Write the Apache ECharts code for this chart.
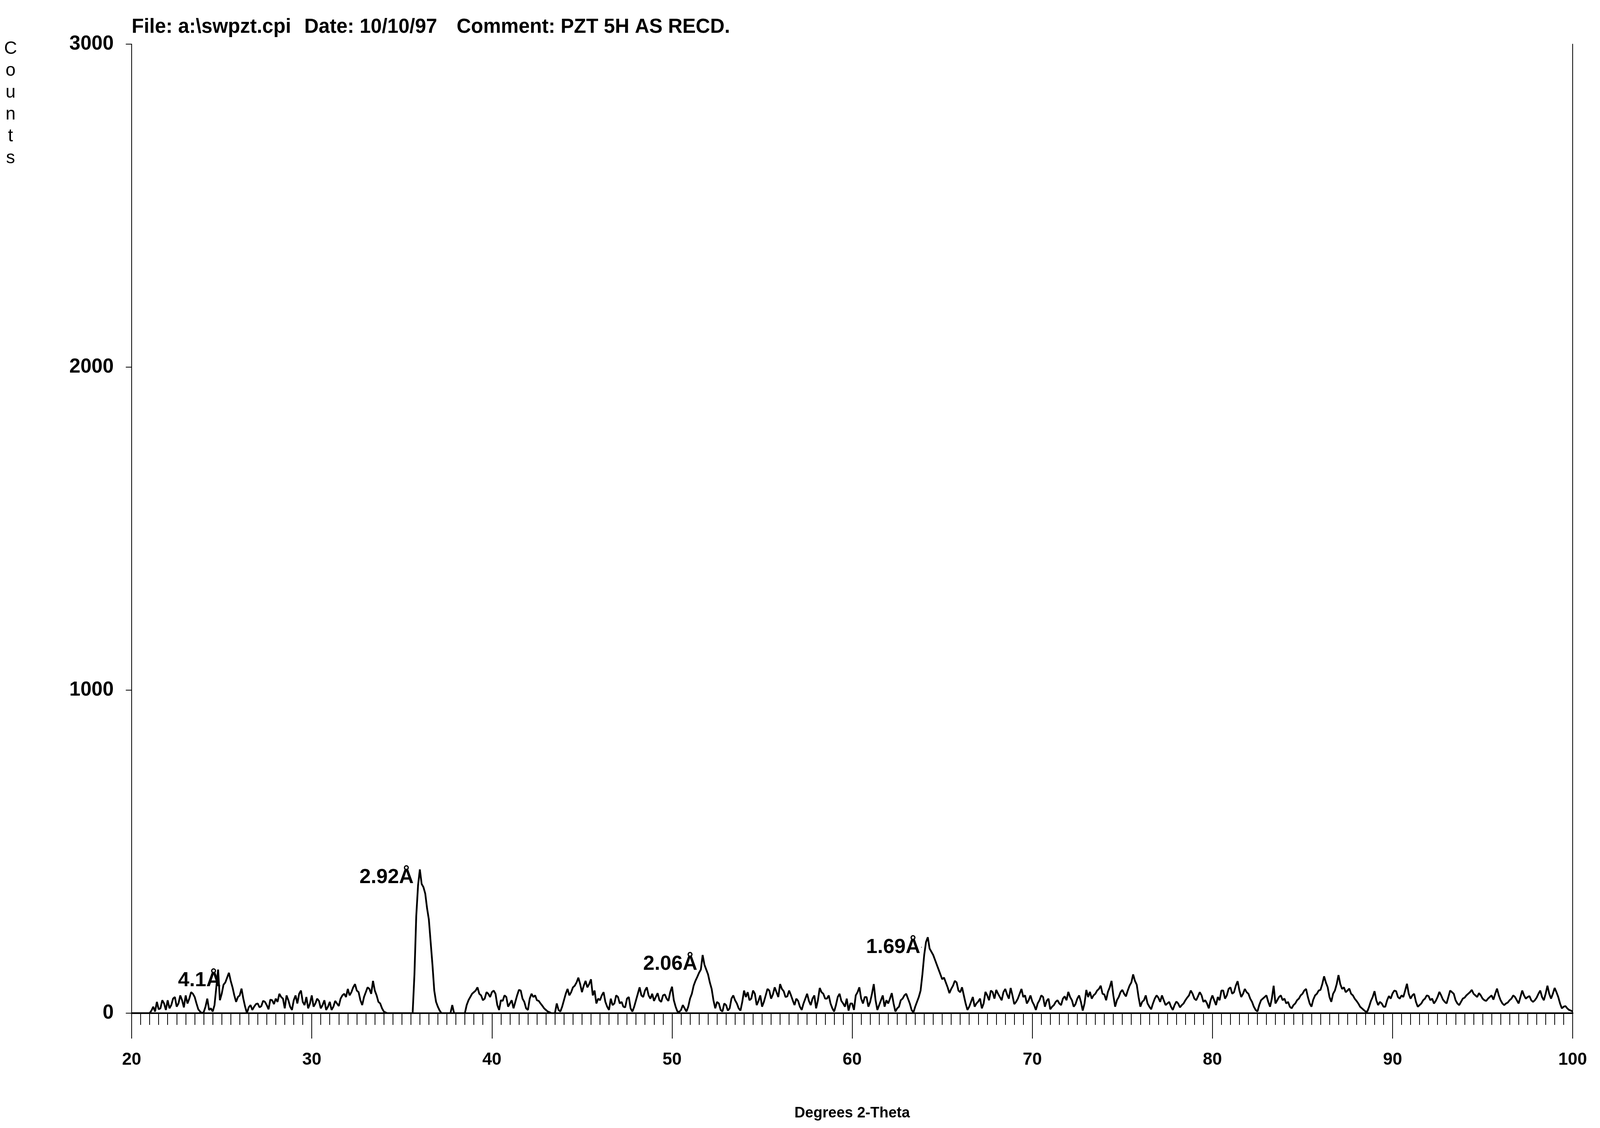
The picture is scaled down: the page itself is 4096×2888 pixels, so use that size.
<!DOCTYPE html>
<html><head><meta charset="utf-8">
<script src="https://cdn.jsdelivr.net/npm/echarts@6/dist/echarts.min.js"></script>
<style>html,body{margin:0;padding:0;background:#fff}#c{width:4096px;height:2888px}</style>
</head><body><div id="c"></div>
<script>
// 2-theta sampling
const startAngle = 20;
const angleStep = 0.1;
// counts, 0.1 degree steps (one row = one degree)
const counts20to40 = [
 0,0,0,0,0,0,0,0,0,0,
 0,8,20,5,35,12,15,40,30,10,
 40,15,25,45,50,20,30,55,40,18,
 55,30,45,65,60,50,30,12,5,0,
 3,20,45,10,15,5,25,80,135,40,
 60,88,95,110,125,100,80,55,35,50,
 55,76,45,20,0,18,25,10,20,28,
 30,18,22,38,35,25,12,42,40,28,
 45,35,60,50,45,15,55,40,20,10,
 40,55,30,60,70,35,25,50,15,30,
 55,20,30,45,38,15,25,40,10,20,
 35,10,20,38,30,22,45,55,60,50,
 75,55,65,80,90,70,65,40,25,50,
 65,80,75,60,100,70,55,35,30,15,
 5,2,0,0,0,0,0,0,0,0,
 0,0,0,0,0,0,0,120,300,395,
 445,400,390,370,325,290,220,150,70,35,
 20,8,0,0,0,0,0,0,25,0,
 0,0,0,0,0,0,25,40,50,60,
 65,70,80,60,55,40,45,65,60,50];
const counts40to60 = [
 65,70,60,25,10,40,38,55,50,20,
 30,40,15,35,55,72,70,45,35,15,
 10,45,60,50,55,40,38,30,23,15,
 10,5,3,0,0,0,30,10,5,20,
 40,60,75,55,65,80,85,95,110,90,
 65,85,100,80,90,105,55,70,30,45,
 40,55,65,35,20,10,45,25,30,55,
 50,30,35,20,18,45,50,15,5,20,
 40,60,80,55,50,70,80,55,45,60,
 38,50,62,40,35,55,58,45,38,65,
 82,40,20,5,4,10,25,15,5,20,
 45,60,85,100,112,125,135,180,150,135,
 120,95,75,40,15,35,30,10,5,30,
 25,8,15,45,55,40,30,15,8,35,
 70,50,65,40,45,70,60,25,38,55,
 20,35,55,75,70,45,58,80,65,50,
 90,75,68,50,52,70,56,40,25,45,
 38,20,10,30,45,60,38,25,45,55,
 15,40,78,65,60,45,45,55,30,15,
 5,25,50,60,38,30,20,45,8,30];
const counts60to80 = [
 30,10,55,65,80,45,30,50,50,20,
 35,60,90,40,10,25,40,55,20,40,
 30,45,62,30,5,15,20,40,45,55,
 60,45,30,10,2,20,35,50,70,120,
 180,220,235,200,190,180,165,150,135,120,
 105,110,95,80,62,75,85,100,95,70,
 65,80,55,30,10,20,35,50,20,30,
 36,45,15,30,66,55,40,70,65,45,
 72,60,50,40,65,75,58,45,78,55,
 28,35,45,60,75,50,55,30,40,55,
 36,25,10,30,40,55,50,20,38,45,
 12,20,25,35,40,30,25,45,52,40,
 66,50,40,20,28,45,55,35,8,30,
 72,50,66,45,55,60,70,75,85,60,
 58,40,66,80,100,55,20,40,50,65,
 72,60,52,70,85,95,120,100,88,50,
 20,35,40,55,30,20,12,30,45,55,
 48,35,55,40,25,30,35,20,10,25,
 36,30,18,25,30,40,48,55,70,60,
 45,40,52,65,55,35,40,30,15,40];
const counts80to100 = [
 55,40,25,50,40,70,70,45,55,75,
 80,60,65,85,99,70,50,60,75,65,
 60,45,35,20,10,5,25,40,45,50,
 55,35,20,45,85,30,40,50,55,40,
 45,30,35,20,15,25,30,40,45,55,
 60,70,75,50,30,20,42,55,60,70,
 72,90,114,95,80,50,35,60,70,90,
 118,90,75,80,65,70,76,60,55,45,
 38,30,20,15,10,5,5,20,38,50,
 68,40,25,35,30,20,20,40,53,45,
 61,70,68,50,45,55,50,70,91,60,
 45,55,60,35,20,25,30,40,45,55,
 53,40,45,30,38,50,66,55,42,35,
 30,50,70,65,60,40,30,25,35,45,
 48,55,60,65,72,60,55,50,62,55,
 45,40,38,45,50,55,42,60,76,55,
 40,30,25,30,33,40,45,55,50,40,
 30,50,70,55,45,50,53,40,35,40,
 48,60,70,50,40,60,85,60,45,60,
 78,65,50,30,15,20,22,15,10,8,
 5];
// axis ticks
const xMin = 20, xMax = 100, xInterval = 10;
const yMin = 0, yMax = 3000, yInterval = 1000;
// peak annotations (label anchored at its right end)
const peakLabels = ['4.1Å', '2.92Å', '2.06Å', '1.69Å'];
const peakAngles = [25.0, 35.7, 51.45, 63.85];
const peakLabelCounts = [101, 420, 152, 204];
// header texts
const headerFile = 'File: a:\\swpzt.cpi';
const headerDate = 'Date: 10/10/97';
const headerComment = 'Comment: PZT 5H AS RECD.';
const xAxisTitle = 'Degrees 2-Theta';
const yAxisTitle = 'Counts';

const allCounts = [].concat(counts20to40, counts40to60, counts60to80, counts80to100);
const lineData = allCounts.map((v, i) => [+(startAngle + i * angleStep).toFixed(2), v]);
const peakData = peakAngles.map((a, i) => ({value: [a, peakLabelCounts[i]], name: peakLabels[i]}));

const FONT = '"Liberation Sans", Arial, sans-serif';
const chart = echarts.init(document.getElementById('c'), null, {renderer: 'canvas'});
chart.setOption({
  animation: false,
  backgroundColor: '#ffffff',
  grid: {left: 337, right: 70, top: 113, bottom: 294, containLabel: false},
  xAxis: {
    type: 'value', min: xMin, max: xMax, interval: xInterval,
    name: xAxisTitle, nameLocation: 'middle', nameGap: 238,
    nameTextStyle: {fontFamily: FONT, fontWeight: 'bold', fontSize: 38, color: '#000'},
    axisLine: {show: true, onZero: false, lineStyle: {color: '#000', width: 4}},
    axisTick: {show: true, inside: false, length: 65, lineStyle: {color: '#000', width: 2}},
    minorTick: {show: true, splitNumber: 20, length: 30, lineStyle: {color: '#000', width: 2}},
    axisLabel: {fontFamily: FONT, fontWeight: 'bold', fontSize: 44, color: '#000', margin: 98},
    splitLine: {show: false}, minorSplitLine: {show: false}
  },
  yAxis: [{
    type: 'value', min: yMin, max: yMax, interval: yInterval,
    axisLine: {show: true, lineStyle: {color: '#000', width: 2}},
    axisTick: {show: true, inside: false, length: 15, lineStyle: {color: '#000', width: 2}},
    axisLabel: {fontFamily: FONT, fontWeight: 'bold', fontSize: 51, color: '#000', margin: 46,
      formatter: v => String(v)},
    splitLine: {show: false}
  }, {
    type: 'value', min: yMin, max: yMax, interval: yInterval, position: 'right',
    axisLine: {show: true, lineStyle: {color: '#000', width: 2}},
    axisTick: {show: false}, axisLabel: {show: false}, splitLine: {show: false}
  }],
  series: [{
    type: 'line', data: lineData, showSymbol: false, symbol: 'none',
    lineStyle: {color: '#000', width: 4.5}, z: 3
  }, {
    type: 'scatter', data: peakData, symbolSize: 0, z: 4,
    itemStyle: {opacity: 1, color: '#000'},
    label: {show: true, position: 'left', distance: 2, formatter: p => p.name,
      fontFamily: FONT, fontWeight: 'bold', fontSize: 52, color: '#000', opacity: 1}
  }],
  graphic: [
    {type: 'text', x: 337, y: 70, style: {text: headerFile, fontFamily: FONT, fontWeight: 'bold', fontSize: 51, fill: '#000', verticalAlign: 'middle'}},
    {type: 'text', x: 779, y: 70, style: {text: headerDate, fontFamily: FONT, fontWeight: 'bold', fontSize: 51, fill: '#000', verticalAlign: 'middle'}},
    {type: 'text', x: 1169, y: 70, style: {text: headerComment, fontFamily: FONT, fontWeight: 'bold', fontSize: 51, fill: '#000', verticalAlign: 'middle'}},
    {type: 'text', x: 27, y: 97, style: {text: yAxisTitle.split('').join('\n'), fontFamily: FONT, fontSize: 46, lineHeight: 56, fill: '#000', align: 'center', verticalAlign: 'top'}}
  ]
});
</script></body></html>
